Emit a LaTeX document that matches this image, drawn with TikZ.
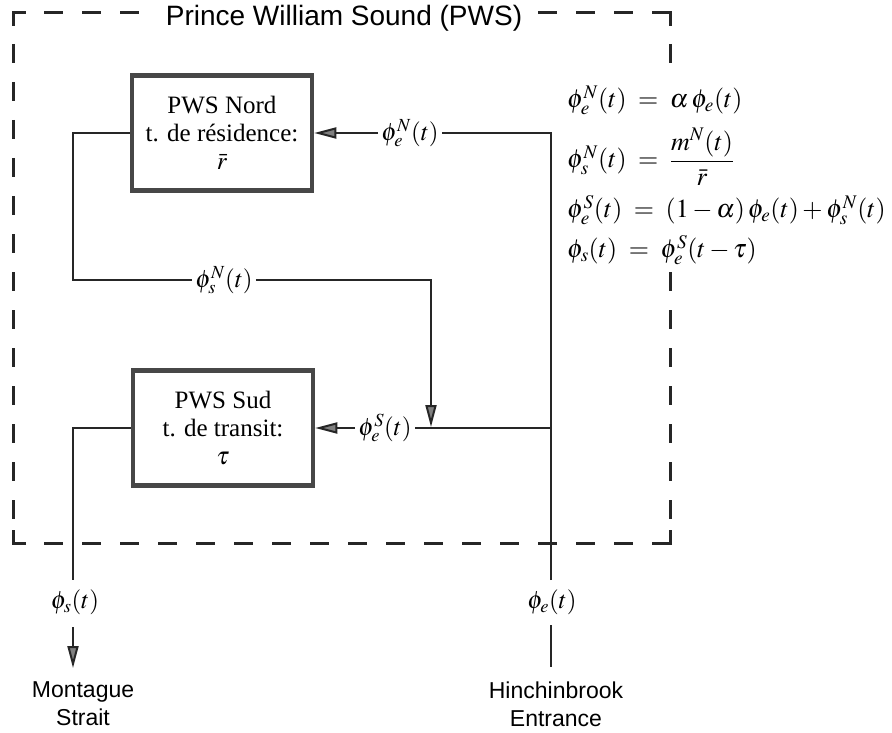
\documentclass[tikz,border=0pt]{standalone}
\usepackage{mathptmx}
\usepackage{fontspec}
\setmainfont{Liberation Serif}
\newfontfamily\helv{Liberation Sans}
\usetikzlibrary{arrows.meta}
\begin{document}
\begin{tikzpicture}[x=1pt,y=-1pt,
  blk/.style={draw=black!72, line width=4.5pt, minimum width=180pt, minimum height=115pt, align=center, font=\fontsize{25}{28}\selectfont, inner sep=0pt},
  con/.style={draw=black!85, line width=2pt},
  arr/.style={con, -{Triangle[length=22pt,width=11pt,fill=black!50]}},
  lab/.style={font=\fontsize{25}{28}\selectfont, inner sep=3pt},
  eq/.style={font=\fontsize{26}{30}\selectfont, inner sep=2pt, anchor=west},
  sans/.style={font=\helv\fontsize{23}{28}\selectfont, align=center},
  pws/.style={draw=black!85, line width=3pt, dash pattern=on 19pt off 19pt},
  pwsc/.style={draw=black!85, line width=3pt}
]
\useasboundingbox (0,0) rectangle (892,733);
% dashed frame
\coordinate (tl) at (13,13);
\coordinate (tr) at (670,13);
\coordinate (br) at (670,543);
\coordinate (bl) at (13,543);
\draw[pws, dash phase=19pt] (25,13) -- (658,13);
\draw[pws, dash phase=19pt] (13,25) -- (13,531);
\draw[pws, dash phase=19pt] (670,25) -- (670,531);
\draw[pws, dash phase=19pt] (25,543) -- (658,543);
\draw[pwsc] (13,26) -- (tl) -- (26,13);
\draw[pwsc] (657,13) -- (tr) -- (670,26);
\draw[pwsc] (670,530) -- (br) -- (657,543);
\draw[pwsc] (26,543) -- (bl) -- (13,530);
\node[fill=white, font=\helv\fontsize{28}{32}\selectfont, inner xsep=10pt, inner ysep=2pt] (title) at (344,18) {Prince William Sound (PWS)};

% white ground behind the equations (hides the frame there)
\fill[white] (560,68) rectangle (892,270);

% boxes
\node[blk] (nord) at (222,133) {PWS Nord\\t. de résidence:\\$\bar r$};
\node[blk] (sud) at (223,428) {PWS Sud\\t. de transit:\\$\tau$};

% coordinates
\coordinate (ne) at (551,133);
\coordinate (se) at (551,428);
\coordinate (ebot) at (551,580);
\coordinate (nl) at (73,133);
\coordinate (nlb) at (73,280);
\coordinate (mid) at (431,280);
\coordinate (junc) at (431,427);
\coordinate (sl) at (73,428);
\coordinate (slb) at (73,580);
\coordinate (stop2) at (73,627);
\coordinate (sbot2) at (73,668);
\coordinate (etop2) at (551,625);
\coordinate (ebot2) at (551,667);

% labels
\node[lab] (phieN) at (410,133) {$\phi_e^N(t)$};
\node[lab] (phisN) at (224,280) {$\phi_s^N(t)$};
\node[lab] (phieS) at (385,428) {$\phi_e^S(t)$};
\node[lab] (phie) at (552,602) {$\phi_e(t)$};
\node[lab] (phis) at (75,602) {$\phi_s(t)$};

% connectors
\draw[con] (ebot) -- (ne) -- (phieN.east |- ne);
\draw[arr] (phieN.west |- ne) -- (nord.east |- ne);
\draw[con] (nord.west |- nl) -- (nl) -- (nlb) -- (phisN.west |- nlb);
\draw[arr] (phisN.east |- nlb) -- (mid) -- (junc);
\draw[con] (se) -- (phieS.east |- se);
\draw[arr] (phieS.west |- se) -- (sud.east |- se);
\draw[con] (sud.west |- sl) -- (sl) -- (slb);
\draw[arr] (stop2) -- (sbot2);
\draw[con] (etop2) -- (ebot2);

% outlet labels
\node[sans] (mont) at (83,704) {Montague\\Strait};
\node[sans] (hinch) at (556,704) {Hinchinbrook\\Entrance};

% equations
\node[eq] (eq1) at (565,100) {$\phi_e^N(t) \;=\; \alpha\,\phi_e(t)$};
\node[eq] (eq2) at (565,157) {$\phi_s^N(t) \;=\; {\displaystyle\frac{m^N(t)}{\bar r}}$};
\node[eq] (eq3) at (565,210) {$\phi_e^S(t) \;=\; (1-\alpha)\,\phi_e(t) + \phi_s^N(t)$};
\node[eq] (eq4) at (565,250) {$\phi_s(t) \;=\; \phi_e^S(t-\tau)$};
\end{tikzpicture}
\end{document}
